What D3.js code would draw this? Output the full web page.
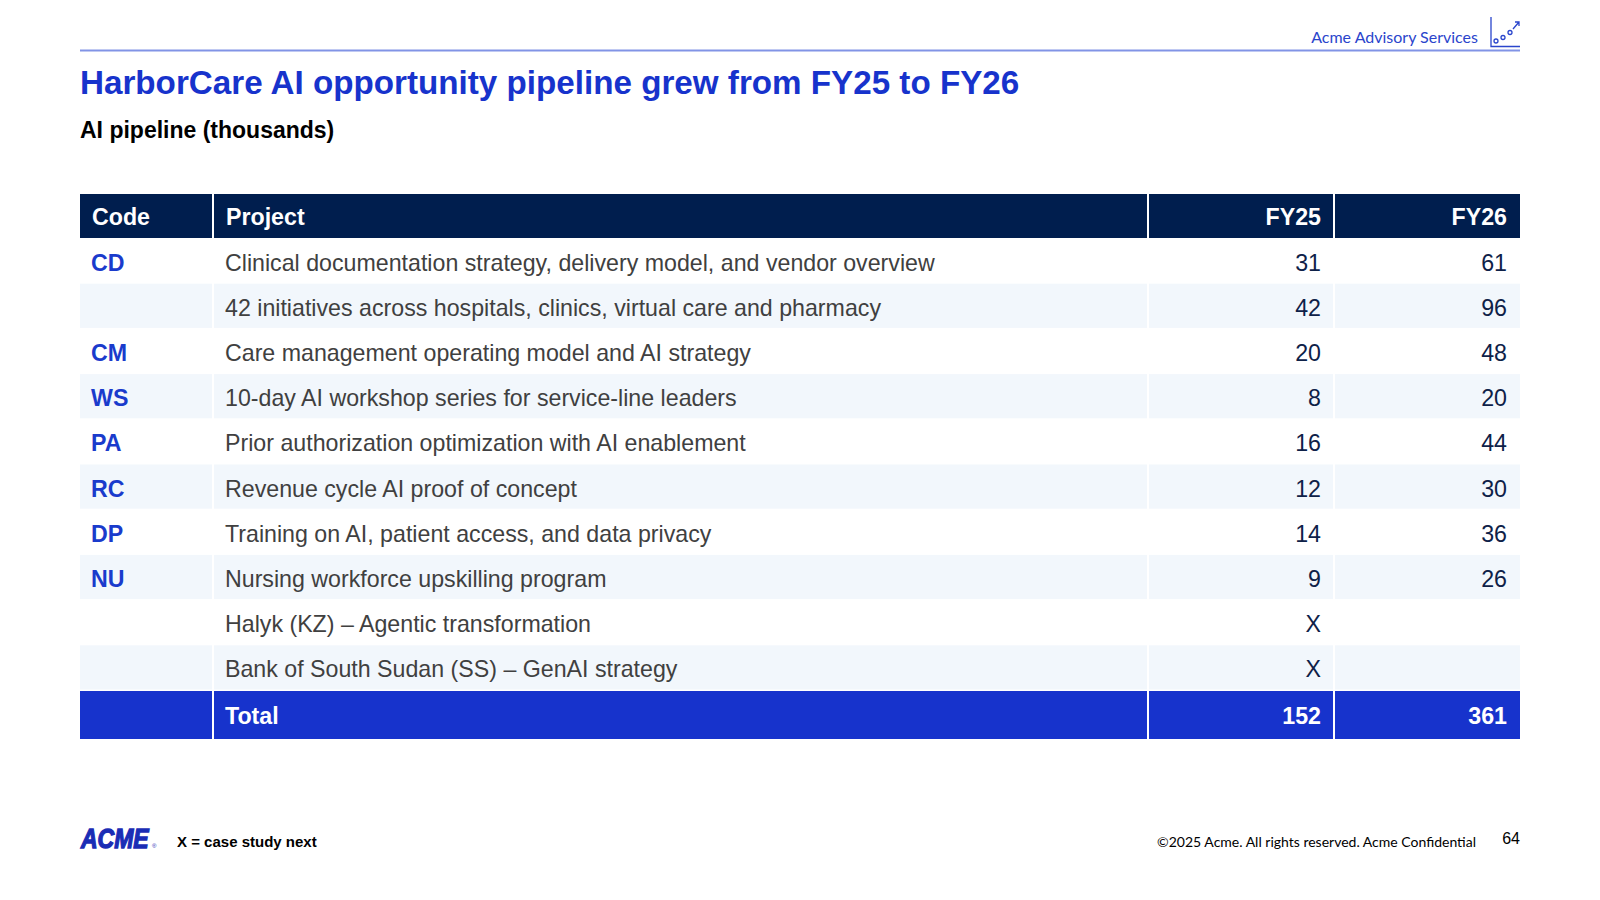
<!DOCTYPE html>
<html>
<head>
<meta charset="utf-8">
<script src="https://cdn.jsdelivr.net/npm/d3@7"></script>
<style>
  body { margin: 0; background: #fff; }
  svg { display: block; }
</style>
</head>
<body>
<div id="slide"></div>
<script>
// table content
var codes = ["CD", "", "CM", "WS", "PA", "RC", "DP", "NU", "", ""];
var projects = [
    "Clinical documentation strategy, delivery model, and vendor overview",
    "42 initiatives across hospitals, clinics, virtual care and pharmacy",
    "Care management operating model and AI strategy",
    "10-day AI workshop series for service-line leaders",
    "Prior authorization optimization with AI enablement",
    "Revenue cycle AI proof of concept",
    "Training on AI, patient access, and data privacy",
    "Nursing workforce upskilling program",
    "Halyk (KZ) \u2013 Agentic transformation",
    "Bank of South Sudan (SS) \u2013 GenAI strategy"
];
var fy25 = [31, 42, 20, 8, 16, 12, 14, 9, "X", "X"];
var fy26 = [61, 96, 48, 20, 44, 30, 36, 26, "", ""];
var headers = ["Code", "Project", "FY25", "FY26"];

var svgWidth = 1600;
var svgHeight = 900;

var svg = d3.select("#slide").append("svg")
    .attr("width", svgWidth)
    .attr("height", svgHeight);

var navy = "#001e4e";
var blue = "#1733cc";

// top rule + brand
svg.append("line")
    .attr("x1", 80).attr("x2", 1520)
    .attr("y1", 50.5).attr("y2", 50.5)
    .attr("stroke", "#8194e6").attr("stroke-width", 2);

svg.append("text")
    .attr("x", 1478).attr("y", 43)
    .attr("text-anchor", "end")
    .attr("font-family", "Lato, 'Open Sans', sans-serif")
    .attr("font-size", 16)
    .attr("fill", "#2a45cc")
    .text("Acme Advisory Services");

// little chart icon
var icon = svg.append("g").attr("stroke", "#2a45cc").attr("fill", "none").attr("stroke-width", 1.3);
icon.append("path").attr("d", "M1491,17 V46.5 H1520");
[[1496, 41], [1503, 37.5], [1510, 32.5]].forEach(function (p) {
    icon.append("circle").attr("cx", p[0]).attr("cy", p[1]).attr("r", 2);
});
icon.append("path").attr("d", "M1513,29 L1519,22 M1515,22 H1519 V26");

// title
svg.append("text")
    .attr("x", 80).attr("y", 94)
    .attr("font-family", "'Liberation Sans', Arial, sans-serif")
    .attr("font-weight", "bold")
    .attr("font-size", 33.2)
    .attr("fill", blue)
    .text("HarborCare AI opportunity pipeline grew from FY25 to FY26");

svg.append("text")
    .attr("x", 80).attr("y", 138)
    .attr("font-family", "'Liberation Sans', Arial, sans-serif")
    .attr("font-weight", "bold")
    .attr("font-size", 23)
    .attr("fill", "#000")
    .text("AI pipeline (thousands)");

// table layout
var colEdges = [80, 213, 1148, 1334, 1520];
var gap = 2;
function colX(i) { return colEdges[i] + (i > 0 ? gap / 2 : 0); }
function colW(i) { return colEdges[i + 1] - colEdges[i] - (i > 0 ? gap / 2 : 0) - (i < headers.length - 1 ? gap / 2 : 0); }

var headerTop = 194, headerH = 44;
var bodyTop = headerTop + headerH;
var rowScale = d3.scaleBand()
    .domain(d3.range(codes.length))
    .range([bodyTop, bodyTop + 45.2 * codes.length])
    .paddingInner(0);
var rowH = rowScale.bandwidth();
var totalTop = rowScale.range()[1] + 1;
var totalH = 48;

var bodyFont = "'Liberation Sans', Arial, sans-serif";
var fontSize = 23.2;

// header
var hdr = svg.append("g");
hdr.selectAll("rect").data(headers).enter().append("rect")
    .attr("x", (d, i) => colX(i))
    .attr("y", headerTop)
    .attr("width", (d, i) => colW(i))
    .attr("height", headerH)
    .attr("fill", navy);
hdr.selectAll("text").data(headers).enter().append("text")
    .attr("x", (d, i) => i >= 2 ? colEdges[i + 1] - 13 : colX(i) + 12)
    .attr("y", headerTop + headerH / 2 + 8.5)
    .attr("text-anchor", (d, i) => i >= 2 ? "end" : "start")
    .attr("font-family", bodyFont)
    .attr("font-weight", "bold")
    .attr("font-size", fontSize)
    .attr("fill", "#fff")
    .text(d => d);

// body rows
var rows = svg.selectAll(".row").data(d3.range(codes.length)).enter().append("g")
    .attr("class", "row")
    .attr("transform", d => `translate(0, ${rowScale(d)})`);

rows.each(function (r) {
    var g = d3.select(this);
    var fill = r % 2 === 1 ? "#f2f7fc" : "#ffffff";
    g.selectAll("rect").data(headers).enter().append("rect")
        .attr("x", (d, i) => colX(i))
        .attr("y", 0.5)
        .attr("width", (d, i) => colW(i))
        .attr("height", rowH - 1)
        .attr("fill", fill);
    var baseY = rowH / 2 + 10;
    g.append("text")
        .attr("x", colX(0) + 11).attr("y", baseY)
        .attr("font-family", bodyFont).attr("font-weight", "bold")
        .attr("font-size", fontSize).attr("fill", "#1a3bcc")
        .text(codes[r]);
    g.append("text")
        .attr("x", colX(1) + 11).attr("y", baseY)
        .attr("font-family", bodyFont)
        .attr("font-size", fontSize).attr("fill", "#404040")
        .text(projects[r]);
    g.append("text")
        .attr("x", colEdges[3] - 13).attr("y", baseY)
        .attr("text-anchor", "end")
        .attr("font-family", bodyFont)
        .attr("font-size", fontSize).attr("fill", "#0e2148")
        .text(fy25[r]);
    g.append("text")
        .attr("x", colEdges[4] - 13).attr("y", baseY)
        .attr("text-anchor", "end")
        .attr("font-family", bodyFont)
        .attr("font-size", fontSize).attr("fill", "#0e2148")
        .text(fy26[r]);
});

// total row
var total25 = d3.sum(fy25.filter(v => typeof v === "number"));
var total26 = d3.sum(fy26.filter(v => typeof v === "number"));
var totals = ["", "Total", total25, total26];
var tot = svg.append("g").attr("transform", `translate(0, ${totalTop})`);
tot.selectAll("rect").data(totals).enter().append("rect")
    .attr("x", (d, i) => colX(i))
    .attr("y", 0)
    .attr("width", (d, i) => colW(i))
    .attr("height", totalH)
    .attr("fill", blue);
tot.selectAll("text").data(totals).enter().append("text")
    .attr("x", (d, i) => i >= 2 ? colEdges[i + 1] - 13 : colX(i) + 11)
    .attr("y", totalH / 2 + 8.5)
    .attr("text-anchor", (d, i) => i >= 2 ? "end" : "start")
    .attr("font-family", bodyFont)
    .attr("font-weight", "bold")
    .attr("font-size", fontSize)
    .attr("fill", "#fff")
    .text(d => d);

// footer logo: stretched vertically so its natural width stays ~68px
svg.append("g")
    .attr("transform", "translate(81, 848) scale(1, 1.2)")
    .append("text")
    .attr("x", 0).attr("y", 0)
    .attr("font-family", "'Liberation Sans', Arial, sans-serif")
    .attr("font-weight", "bold").attr("font-style", "italic")
    .attr("font-size", 23)
    .attr("fill", "#1a2db5").attr("stroke", "#1a2db5").attr("stroke-width", 1.1)
    .text("ACME");
svg.append("text")
    .attr("x", 152).attr("y", 848)
    .attr("font-family", "'Liberation Sans', Arial, sans-serif")
    .attr("font-size", 6).attr("fill", "#1a2db5")
    .text("\u00ae");

svg.append("text")
    .attr("x", 177).attr("y", 847)
    .attr("font-family", "'Liberation Sans', Arial, sans-serif")
    .attr("font-weight", "bold")
    .attr("font-size", 15)
    .attr("fill", "#000")
    .text("X = case study next");

svg.append("text")
    .attr("x", 1476).attr("y", 847)
    .attr("text-anchor", "end")
    .attr("font-family", "Lato, 'Open Sans', sans-serif")
    .attr("font-size", 14)
    .attr("fill", "#000")
    .text("\u00a92025 Acme. All rights reserved. Acme Confidential");

svg.append("text")
    .attr("x", 1520).attr("y", 844)
    .attr("text-anchor", "end")
    .attr("font-family", "'Liberation Sans', Arial, sans-serif")
    .attr("font-size", 16)
    .attr("fill", "#000")
    .text("64");
</script>
</body>
</html>
